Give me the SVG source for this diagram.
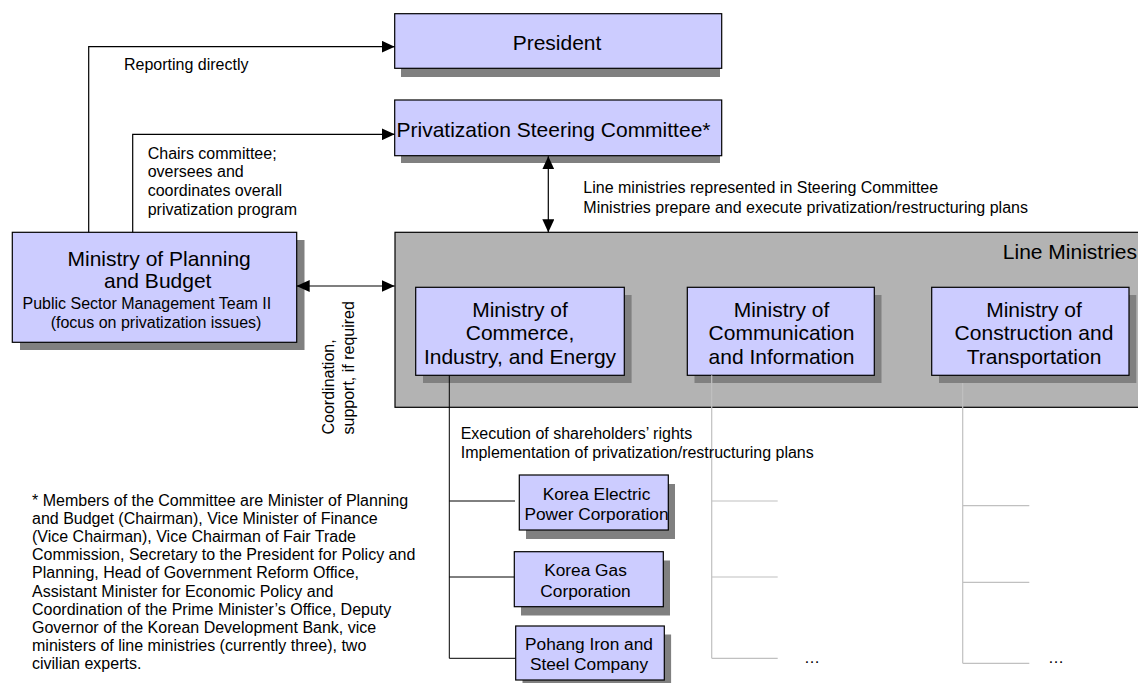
<svg xmlns="http://www.w3.org/2000/svg" width="1138" height="683" viewBox="0 0 1138 683">
<style>
text{font-family:"Liberation Sans",Arial,sans-serif;fill:#000}
.t21{font-size:21px}
.t16{font-size:16px}
.t17{font-size:17.3px}
.mid{text-anchor:middle}
.box{fill:#ccccff;stroke:#000;stroke-width:1.2}
.sh{fill:#808080}
.con{fill:none;stroke:#000;stroke-width:1.2}
.gray{fill:none;stroke:#c0c0c0;stroke-width:1.2}
.blk{fill:none;stroke:#000;stroke-width:1}
</style>
<defs>
<marker id="ah" markerUnits="userSpaceOnUse" markerWidth="13" markerHeight="12" refX="13" refY="6" orient="auto-start-reverse">
<path d="M0,0 L13,6 L0,12 z" fill="#000"/>
</marker>
</defs>
<rect width="1138" height="683" fill="#fff"/>

<g id="line-ministries">
<rect x="395" y="232.3" width="750" height="175" fill="#b3b3b3" stroke="#000" stroke-width="1.2"/>
<text class="t21" x="1137" y="258.5" text-anchor="end">Line Ministries</text>
</g>

<g id="president">
<rect class="sh" x="401" y="22" width="319" height="55"/>
<rect class="box" x="394.7" y="13.7" width="327" height="54.6"/>
<text class="t21 mid" x="557" y="50">President</text>
</g>

<g id="steering">
<rect class="sh" x="401" y="108" width="319" height="55"/>
<rect class="box" x="394.7" y="100" width="327" height="55.7"/>
<text class="t21 mid" x="553.5" y="137">Privatization Steering Committee*</text>
</g>

<g id="mpb">
<rect class="sh" x="20" y="240" width="284.5" height="110"/>
<rect class="box" x="12.3" y="232.3" width="284.4" height="110"/>
<text class="t21" x="67.5" y="266">Ministry of Planning</text>
<text class="t21" x="104" y="287.5">and Budget</text>
<text class="t16" x="22.5" y="308.5">Public Sector Management Team II</text>
<text class="t16" x="50.7" y="327.5">(focus on privatization issues)</text>
</g>

<g id="mcie">
<rect class="sh" x="423" y="295" width="208.6" height="88"/>
<rect class="box" x="415.7" y="287.3" width="208.6" height="88"/>
<text class="t21 mid" x="520" y="316.5">Ministry of</text>
<text class="t21 mid" x="520" y="340">Commerce,</text>
<text class="t21 mid" x="520" y="363.5">Industry, and Energy</text>
</g>

<g id="mci">
<rect class="sh" x="694.5" y="295" width="187" height="88"/>
<rect class="box" x="687.3" y="287.3" width="187" height="88"/>
<text class="t21 mid" x="781.5" y="316.5">Ministry of</text>
<text class="t21 mid" x="781.5" y="340">Communication</text>
<text class="t21 mid" x="781.5" y="363.5">and Information</text>
</g>

<g id="mct">
<rect class="sh" x="939" y="295" width="197.3" height="88"/>
<rect class="box" x="931.7" y="287.3" width="197.3" height="88"/>
<text class="t21 mid" x="1034" y="316.5">Ministry of</text>
<text class="t21 mid" x="1034" y="340">Construction and</text>
<text class="t21 mid" x="1034" y="363.5">Transportation</text>
</g>

<g id="connectors">
<path class="con" d="M88.7,232.3 V46.7 H394.7" marker-end="url(#ah)"/>
<path class="con" d="M132.7,232.3 V134.3 H394.7" marker-end="url(#ah)"/>
<path class="con" d="M296.7,286 H394.7" marker-start="url(#ah)" marker-end="url(#ah)"/>
<path class="con" d="M548.3,156.3 V232.3" marker-start="url(#ah)" marker-end="url(#ah)"/>
<path class="blk" d="M449.3,375.3 V658.3 M449.3,501 H515 M449.3,577 H514.3 M449.3,658.3 H515.7"/>
<path class="gray" d="M711.7,375.3 V658.3 M711.7,501 H777.7 M711.7,577 H777.7 M711.7,658.3 H777.7"/>
<path class="gray" d="M962.7,383 V663.3 M962.7,505.7 H1029.3 M962.7,582.3 H1029.3 M962.7,663.3 H1029.3"/>
</g>

<g id="kepc">
<rect class="sh" x="526" y="484" width="149" height="55"/>
<rect class="box" x="519.3" y="475" width="149" height="55"/>
<text class="t17 mid" x="596.5" y="499.5">Korea Electric</text>
<text class="t17 mid" x="596.5" y="520">Power Corporation</text>
</g>

<g id="kogas">
<rect class="sh" x="521" y="560.5" width="149" height="55"/>
<rect class="box" x="514.3" y="551.7" width="149" height="55"/>
<text class="t17 mid" x="585.5" y="576">Korea Gas</text>
<text class="t17 mid" x="585.5" y="596.7">Corporation</text>
</g>

<g id="posco">
<rect class="sh" x="522.5" y="634.5" width="148.6" height="55"/>
<rect class="box" x="515.7" y="626" width="148.6" height="54"/>
<text class="t17 mid" x="589" y="649.5">Pohang Iron and</text>
<text class="t17 mid" x="589" y="670">Steel Company</text>
</g>

<g id="labels">
<text class="t16" x="124" y="70">Reporting directly</text>
<text class="t16" x="147.7" y="158.5">Chairs committee;</text>
<text class="t16" x="147.7" y="177.2">oversees and</text>
<text class="t16" x="147.7" y="195.9">coordinates overall</text>
<text class="t16" x="147.7" y="214.6">privatization program</text>
<text class="t16" x="583.3" y="193">Line ministries represented in Steering Committee</text>
<text class="t16" x="583.3" y="212.5">Ministries prepare and execute privatization/restructuring plans</text>
<text class="t16" transform="translate(333.5,434.5) rotate(-90)">Coordination,</text>
<text class="t16" transform="translate(354,434.5) rotate(-90)">support, if required</text>
<text class="t16" x="460.7" y="439.3">Execution of shareholders’ rights</text>
<text class="t16" x="460.7" y="458.3">Implementation of privatization/restructuring plans</text>
<text class="t16" x="804" y="662.5">…</text>
<text class="t16" x="1048" y="662.5">…</text>
</g>

<g id="footnote">
<text class="t16" x="32" y="505.5">* Members of the Committee are Minister of Planning</text>
<text class="t16" x="32" y="523.7">and Budget (Chairman), Vice Minister of Finance</text>
<text class="t16" x="32" y="541.9">(Vice Chairman), Vice Chairman of Fair Trade</text>
<text class="t16" x="32" y="560.1">Commission, Secretary to the President for Policy and</text>
<text class="t16" x="32" y="578.3">Planning, Head of Government Reform Office,</text>
<text class="t16" x="32" y="596.5">Assistant Minister for Economic Policy and</text>
<text class="t16" x="32" y="614.7">Coordination of the Prime Minister’s Office, Deputy</text>
<text class="t16" x="32" y="632.9">Governor of the Korean Development Bank, vice</text>
<text class="t16" x="32" y="651.1">ministers of line ministries (currently three), two</text>
<text class="t16" x="32" y="669.3">civilian experts.</text>
</g>
</svg>
